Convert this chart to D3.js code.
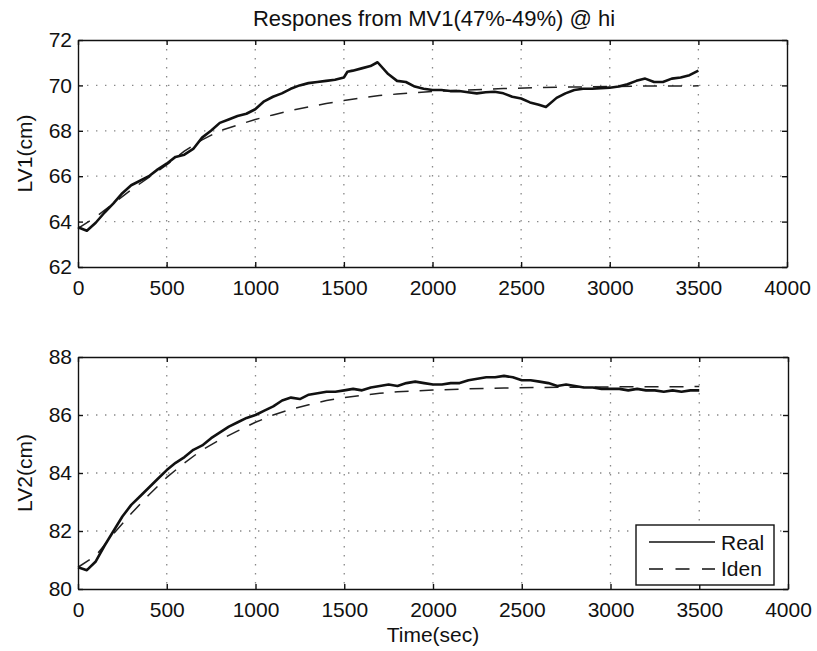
<!DOCTYPE html>
<html>
<head>
<meta charset="utf-8">
<script src="https://cdn.jsdelivr.net/npm/d3@7"></script>
<style>
  body { margin: 0; background: #fff; }
  text { font-family: "Liberation Sans", Arial, sans-serif; fill: #111; }
  .axis path, .axis line { stroke: #111; stroke-width: 1.4; }
  .grid line { stroke: #888; stroke-width: 1.3; stroke-dasharray: 1.4,7.6; }
</style>
</head>
<body>
<svg id="chart"></svg>
<script>
// sample data: [time(sec), level(cm)]
const lv1Real = [
  [0,63.75],[50,63.6],[100,63.95],[150,64.4],[200,64.8],[250,65.25],[300,65.6],[350,65.8],
  [400,66.0],[450,66.3],[500,66.55],[550,66.85],[600,66.95],[650,67.2],[700,67.7],[750,68.0],
  [800,68.35],[850,68.5],[900,68.65],[950,68.75],[1000,68.95],[1050,69.3],[1100,69.5],[1150,69.65],
  [1200,69.85],[1250,70.0],[1300,70.1],[1350,70.15],[1400,70.2],[1450,70.25],[1500,70.35],[1520,70.6],
  [1550,70.65],[1600,70.75],[1650,70.85],[1690,71.02],[1750,70.5],[1800,70.2],[1850,70.15],[1900,69.95],
  [1950,69.85],[2000,69.8],[2050,69.8],[2100,69.75],[2150,69.75],[2200,69.7],[2250,69.65],[2300,69.7],
  [2350,69.72],[2400,69.65],[2450,69.5],[2500,69.42],[2550,69.25],[2600,69.15],[2640,69.05],[2700,69.45],
  [2750,69.65],[2800,69.8],[2850,69.85],[2900,69.85],[2950,69.88],[3000,69.9],[3050,69.95],[3100,70.05],
  [3150,70.2],[3200,70.3],[3250,70.15],[3300,70.15],[3350,70.3],[3400,70.35],[3450,70.45],[3500,70.65]
];
const lv1Iden = [
  [0,63.7],[100,64.2],[200,64.8],[300,65.4],[400,65.95],[500,66.5],[600,67.1],[700,67.6],
  [800,68.0],[900,68.25],[1000,68.5],[1100,68.7],[1200,68.9],[1300,69.05],[1400,69.2],[1500,69.33],
  [1600,69.45],[1700,69.55],[1800,69.62],[1900,69.68],[2000,69.73],[2200,69.8],[2400,69.86],
  [2600,69.9],[2800,69.93],[3000,69.95],[3200,69.97],[3500,69.98]
];
const lv2Real = [
  [0,80.75],[50,80.65],[100,80.95],[150,81.5],[200,82.0],[250,82.5],[300,82.9],[350,83.2],
  [400,83.5],[450,83.8],[500,84.1],[550,84.35],[600,84.55],[650,84.8],[700,84.95],[750,85.2],
  [800,85.4],[850,85.6],[900,85.75],[950,85.9],[1000,86.0],[1050,86.15],[1100,86.3],[1150,86.5],
  [1200,86.6],[1250,86.55],[1300,86.7],[1350,86.75],[1400,86.8],[1450,86.8],[1500,86.85],[1550,86.9],
  [1600,86.85],[1650,86.95],[1700,87.0],[1750,87.05],[1800,87.0],[1850,87.1],[1900,87.15],[1950,87.1],
  [2000,87.05],[2050,87.05],[2100,87.1],[2150,87.1],[2200,87.2],[2250,87.25],[2300,87.3],[2350,87.3],
  [2400,87.35],[2450,87.3],[2500,87.2],[2550,87.2],[2600,87.15],[2650,87.1],[2700,87.0],[2750,87.05],
  [2800,87.0],[2850,86.95],[2900,86.95],[2950,86.9],[3000,86.9],[3050,86.9],[3100,86.85],[3150,86.9],
  [3200,86.85],[3250,86.85],[3300,86.8],[3350,86.85],[3400,86.8],[3450,86.85],[3500,86.85]
];
const lv2Iden = [
  [0,80.75],[100,81.15],[200,81.9],[300,82.6],[400,83.25],[500,83.85],[600,84.35],[700,84.8],
  [800,85.15],[900,85.45],[1000,85.75],[1100,86.0],[1200,86.2],[1300,86.35],[1400,86.5],[1500,86.6],
  [1600,86.68],[1700,86.75],[1800,86.8],[1900,86.83],[2000,86.86],[2200,86.9],[2400,86.93],
  [2600,86.95],[2800,86.96],[3000,86.97],[3500,86.98]
];

const xTicks = [0,500,1000,1500,2000,2500,3000,3500,4000];
const lv1Ticks = [62,64,66,68,70,72];
const lv2Ticks = [80,82,84,86,88];
const legendNames = ["Real","Iden"];

(function(){
    let w = 817, h = 651;

    let svg = d3.select("#chart")
        .attr("width", w)
        .attr("height", h);

    function panel(opt) {
        let x = d3.scaleLinear().domain([0, 4000]).range([opt.left, opt.right]);
        let y = d3.scaleLinear().domain(opt.domain).range([opt.bottom, opt.top]);
        let g = svg.append("g");

        // dotted grid
        let grid = g.append("g").attr("class", "grid");
        grid.selectAll(".gx")
            .data(xTicks.slice(1, -1))
            .enter().append("line")
            .attr("x1", d => x(d)).attr("x2", d => x(d))
            .attr("y1", opt.top).attr("y2", opt.bottom);
        grid.selectAll(".gy")
            .data(opt.ticks.slice(1, -1))
            .enter().append("line")
            .attr("x1", opt.left).attr("x2", opt.right)
            .attr("y1", d => y(d)).attr("y2", d => y(d));

        let line = d3.line().x(d => x(d[0])).y(d => y(d[1]));

        g.append("path")
            .datum(opt.iden)
            .attr("d", line)
            .attr("fill", "none")
            .attr("stroke", "#222")
            .attr("stroke-width", 1.5)
            .attr("stroke-dasharray", "14,11");

        g.append("path")
            .datum(opt.real)
            .attr("d", line)
            .attr("fill", "none")
            .attr("stroke", "#111")
            .attr("stroke-width", 2.6)
            .attr("stroke-linejoin", "round");

        // box with inward ticks on all sides
        g.append("g").attr("class", "axis")
            .attr("transform", "translate(0," + opt.bottom + ")")
            .call(d3.axisBottom(x).tickValues(xTicks).tickFormat(d3.format("d"))
                .tickSizeInner(-5).tickSizeOuter(0).tickPadding(13))
            .selectAll("text").style("font-size", "21px");
        g.append("g").attr("class", "axis")
            .attr("transform", "translate(0," + opt.top + ")")
            .call(d3.axisTop(x).tickValues(xTicks).tickSizeInner(-5).tickSizeOuter(0).tickFormat(""));
        g.append("g").attr("class", "axis")
            .attr("transform", "translate(" + opt.left + ",0)")
            .call(d3.axisLeft(y).tickValues(opt.ticks).tickSizeInner(-5).tickSizeOuter(0).tickPadding(6))
            .selectAll("text").style("font-size", "21px");
        g.append("g").attr("class", "axis")
            .attr("transform", "translate(" + opt.right + ",0)")
            .call(d3.axisRight(y).tickValues(opt.ticks).tickSizeInner(-5).tickSizeOuter(0).tickFormat(""));

        g.append("text")
            .attr("transform", "translate(" + 32 + "," + ((opt.top + opt.bottom) / 2) + ") rotate(-90)")
            .attr("text-anchor", "middle")
            .style("font-size", "21px")
            .text(opt.label);

        return {x: x, y: y, g: g};
    }

    panel({left: 78, right: 787, top: 40, bottom: 267, domain: [62, 72],
           ticks: lv1Ticks, real: lv1Real, iden: lv1Iden, label: "LV1(cm)"});
    panel({left: 78, right: 788, top: 357, bottom: 589, domain: [80, 88],
           ticks: lv2Ticks, real: lv2Real, iden: lv2Iden, label: "LV2(cm)"});

    svg.append("text")
        .attr("x", 434)
        .attr("y", 26)
        .attr("text-anchor", "middle")
        .style("font-size", "22px")
        .text("Respones from MV1(47%-49%) @ hi");

    svg.append("text")
        .attr("x", 433)
        .attr("y", 642)
        .attr("text-anchor", "middle")
        .style("font-size", "21px")
        .text("Time(sec)");

    // legend
    let lg = svg.append("g");
    lg.append("rect")
        .attr("x", 636).attr("y", 525)
        .attr("width", 138).attr("height", 60)
        .attr("fill", "#fff")
        .attr("stroke", "#111")
        .attr("stroke-width", 1.4);
    lg.selectAll(".lg-line")
        .data(legendNames)
        .enter().append("line")
        .attr("x1", 649).attr("x2", 715)
        .attr("y1", (d, i) => 542 + i * 27)
        .attr("y2", (d, i) => 542 + i * 27)
        .attr("stroke", "#111")
        .attr("stroke-width", 1.4)
        .attr("stroke-dasharray", (d, i) => i ? "14,12.5" : null);
    lg.selectAll(".lg-text")
        .data(legendNames)
        .enter().append("text")
        .attr("x", 721)
        .attr("y", (d, i) => 550 + i * 26)
        .style("font-size", "21px")
        .text(d => d);
})();
</script>
</body>
</html>
